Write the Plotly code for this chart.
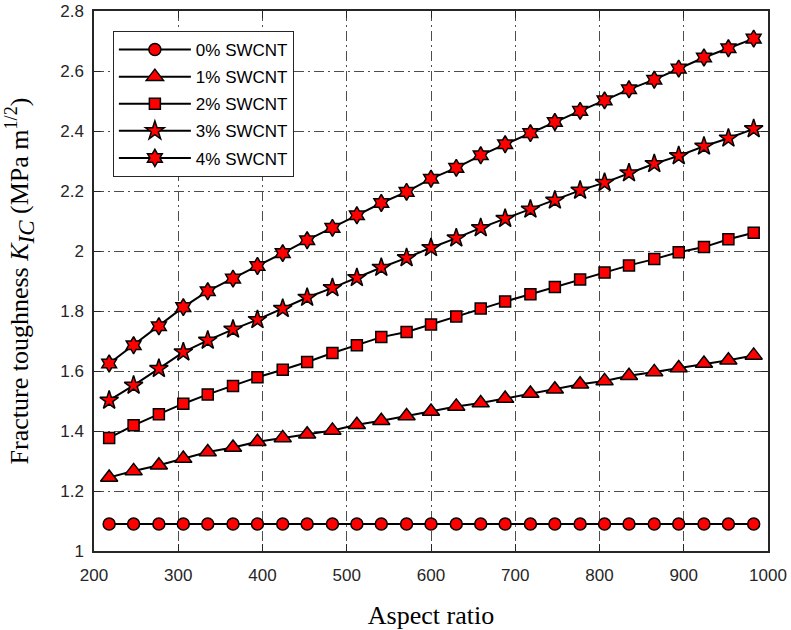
import plotly.graph_objects as go

aspect_ratio = [218, 247, 277, 306, 335, 365, 394, 424, 453, 483, 512, 541, 571, 600,
                630, 659, 688, 718, 747, 777, 806, 835, 865, 894, 924, 953, 983]

k_0 = [1.09] * 27
k_1 = [1.245, 1.267, 1.286, 1.308, 1.330, 1.345, 1.364, 1.377, 1.389, 1.402, 1.421, 1.434,
       1.450, 1.465, 1.482, 1.493, 1.508, 1.525, 1.539, 1.556, 1.567, 1.584, 1.597, 1.610,
       1.625, 1.636, 1.652]
k_2 = [1.377, 1.419, 1.456, 1.491, 1.522, 1.550, 1.579, 1.604, 1.630, 1.660, 1.686, 1.713,
       1.730, 1.755, 1.782, 1.808, 1.832, 1.856, 1.880, 1.905, 1.928, 1.952, 1.973, 1.996,
       2.013, 2.039, 2.061]
k_3 = [1.502, 1.552, 1.608, 1.663, 1.702, 1.739, 1.771, 1.808, 1.845, 1.877, 1.911, 1.945,
       1.977, 2.011, 2.043, 2.077, 2.108, 2.139, 2.169, 2.202, 2.228, 2.260, 2.291, 2.317,
       2.349, 2.376, 2.407]
k_4 = [1.625, 1.686, 1.749, 1.813, 1.866, 1.908, 1.950, 1.993, 2.036, 2.077, 2.119, 2.160,
       2.197, 2.241, 2.277, 2.319, 2.356, 2.393, 2.430, 2.467, 2.502, 2.539, 2.571, 2.608,
       2.645, 2.676, 2.708]

names = ["0% SWCNT", "1% SWCNT", "2% SWCNT", "3% SWCNT", "4% SWCNT"]
series = [k_0, k_1, k_2, k_3, k_4]
symbols = ["circle", "triangle-up", "square", "star", "hexagram"]
sizes = [12, 15, 11, 14, 13]

fig = go.Figure()
for name, ys, sym, sz in zip(names, series, symbols, sizes):
    fig.add_trace(go.Scatter(
        x=aspect_ratio, y=ys, name=name, legendgroup=name, mode="lines+markers",
        line=dict(color="black", width=2),
        marker=dict(symbol=sym, size=sz, color="red", line=dict(color="black", width=1.5)),
    ))

axis_common = dict(
    showline=True, linecolor="#262626", linewidth=1.5, mirror="ticks",
    ticks="inside", ticklen=7, tickcolor="#262626", tickwidth=1,
    showgrid=True, gridcolor="#4d4d4d", gridwidth=1, griddash="10px,4px,2px,4px",
    zeroline=False, automargin=False,
    tickfont=dict(family="Liberation Sans, Arial", size=17, color="#262626"),
)

fig.update_xaxes(range=[200, 1000], dtick=100, ticklabelstandoff=8, **axis_common,
                 title=dict(text="Aspect ratio", standoff=22,
                            font=dict(family="Liberation Serif, Times New Roman", size=26, color="black")))
fig.update_yaxes(range=[1, 2.8], dtick=0.2, tickformat="~g", ticklabelstandoff=5, **axis_common,
                 title=dict(text="Fracture toughness <i>K</i><sub><span style=\"font-size:23px\"><i>IC</i></span></sub> (MPa m<sup>1/2</sup>)",
                            standoff=24,
                            font=dict(family="Liberation Serif, Times New Roman", size=26, color="black")))

fig.update_layout(
    width=791, height=630,
    margin=dict(l=94, r=23, t=11, b=79),
    plot_bgcolor="white", paper_bgcolor="white",
    legend=dict(x=0.028, y=0.963, xanchor="left", yanchor="top",
                bgcolor="white", bordercolor="#262626", borderwidth=1,
                font=dict(family="Liberation Sans, Arial", size=17, color="black"),
                itemwidth=72, tracegroupgap=2, traceorder="grouped"),
)

fig.write_html("out.html", config={"displayModeBar": False},
               post_script="document.body.style.margin='0';")
